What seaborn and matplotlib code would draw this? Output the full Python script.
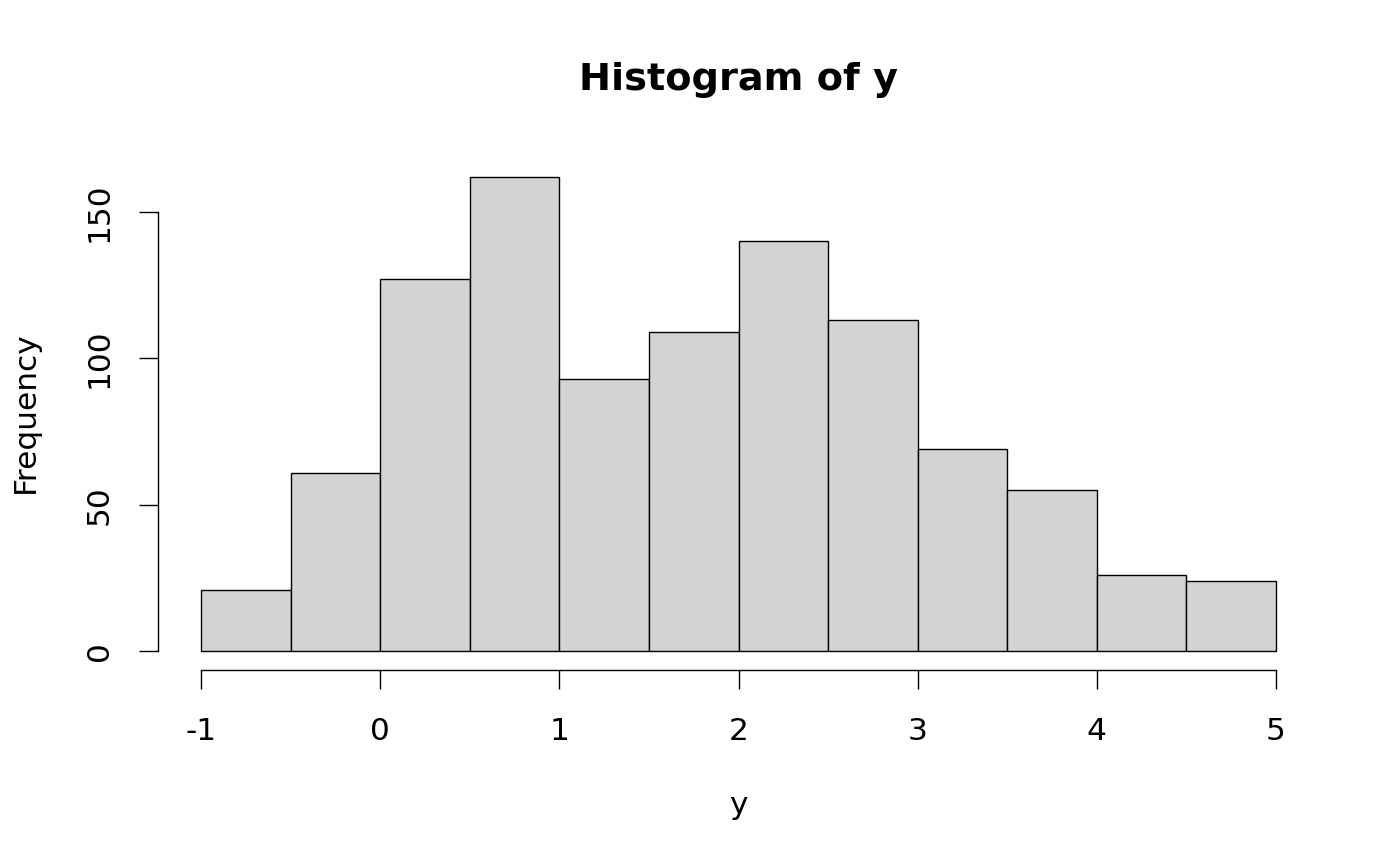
import numpy as np
import pandas as pd
import matplotlib
matplotlib.use("Agg")
import matplotlib.pyplot as plt
import seaborn as sns

bin_edges = [-1.0, -0.5, 0.0, 0.5, 1.0, 1.5, 2.0, 2.5, 3.0, 3.5, 4.0, 4.5, 5.0]
bin_centers = [-0.75, -0.25, 0.25, 0.75, 1.25, 1.75, 2.25, 2.75, 3.25, 3.75, 4.25, 4.75]
counts = [21, 61, 127, 162, 93, 109, 140, 113, 69, 55, 26, 24]
x_ticks = [-1, 0, 1, 2, 3, 4, 5]
y_ticks = [0, 50, 100, 150]

df = pd.DataFrame({"y": bin_centers, "count": counts})

sns.set_theme(style="white")
plt.rcParams['font.family'] = ['DejaVu Sans']

fig = plt.figure(figsize=(14, 8.66), dpi=100)
ax = fig.add_axes([158/1400, 1 - 670/866, (1319-158)/1400, (670-158)/866])

sns.histplot(data=df, x="y", weights="count", bins=bin_edges, ax=ax,
             color="#d3d3d3", alpha=1, edgecolor="black", linewidth=1.0)

ax.set_xlim(-1.24, 5.24)
ax.set_ylim(-162*0.04, 162*1.04)
ax.set_xticks(x_ticks)
ax.set_xticklabels([str(v) for v in x_ticks])
ax.set_yticks(y_ticks)
ax.set_yticklabels([str(v) for v in y_ticks], rotation=90, va="center")
for s in ["top", "right"]:
    ax.spines[s].set_visible(False)
ax.spines["left"].set_bounds(0, 150)
ax.spines["bottom"].set_bounds(-1, 5)
for s in ["left", "bottom"]:
    ax.spines[s].set_color("black")
    ax.spines[s].set_linewidth(1.0)
ax.tick_params(axis="both", direction="out", length=14, width=1.0, color="black",
               labelsize=22.5, labelcolor="black", left=True, bottom=True)
ax.tick_params(axis="x", pad=20)
ax.tick_params(axis="y", pad=18)
ax.set_xlabel("")
ax.set_ylabel("")
ax.grid(False)

fig.text(738/1400, 1 - 80/866, "Histogram of y", ha="center", va="center",
         fontsize=27.5, fontweight="bold", color="black")
fig.text(738/1400, 1 - 805/866, "y", ha="center", va="center", fontsize=22.5,
         color="black")
fig.text(25/1400, 1 - 412/866, "Frequency", ha="center", va="center",
         fontsize=22.5, rotation=90, color="black")

fig.savefig("out.png", dpi=100)
